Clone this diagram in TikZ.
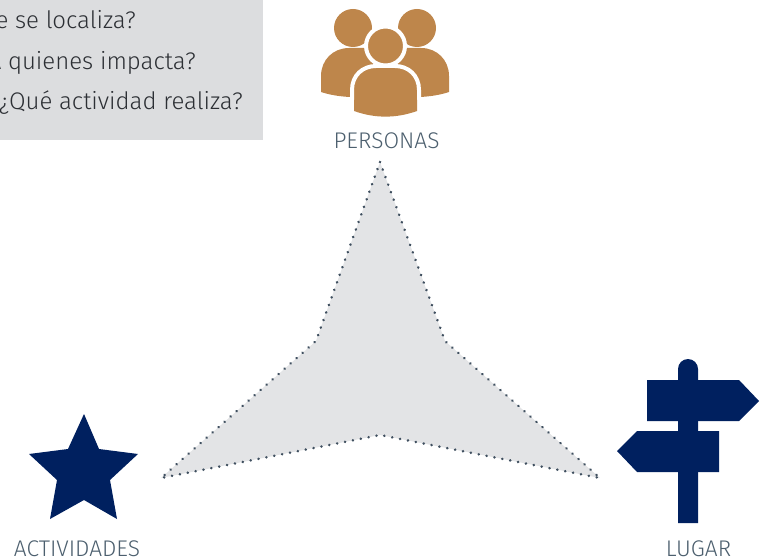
\documentclass[tikz,border=0pt]{standalone}
\usepackage{fontspec}
\setmainfont[UprightFont=* Light]{Fira Sans}
\definecolor{boxgray}{HTML}{DCDDDF}
\definecolor{stargray}{HTML}{E3E4E6}
\definecolor{navy}{HTML}{00205F}
\definecolor{bronze}{HTML}{BE864B}
\definecolor{slate}{HTML}{4C5F6E}
\definecolor{dotgray}{HTML}{3F4F5F}
\definecolor{ink}{HTML}{2C2F34}
\tikzset{
  qtext/.style={text=ink,anchor=base east,inner sep=0pt,font=\fontsize{18}{20}\selectfont},
  captext/.style={text=slate,anchor=base,inner sep=0pt,font=\fontsize{17}{20}\selectfont},
  bronzefill/.style={fill=bronze,draw=none},
  ringshape/.style={fill=bronze,draw=white,line width=3pt},
  navyfill/.style={fill=navy,draw=none}
}
\begin{document}
\begin{tikzpicture}[x=0.75pt,y=-0.75pt]
\useasboundingbox (0,0) rectangle (762,559);
\fill[boxgray] (0,0) rectangle (263,140);
\node[qtext] (q1) at (136,29) {e se localiza?};
\node[qtext] (q2) at (196,70) {A quienes impacta?};
\node[qtext] (q3) at (243,110) {¿Qué actividad realiza?};
% star polygon
\fill[stargray] (380,162) -- (445,341) -- (600,478) -- (380,435) -- (161,478) -- (316,341) -- cycle;
\draw[draw=dotgray,line width=2.1pt,dash pattern=on 0.01pt off 6pt,line cap=round]
  (380,162) -- (445,341) -- (600,478) -- (380,435) -- (161,478) -- (316,341) -- cycle;
% people
\fill[bronzefill] (353,28) circle (19);
\fill[bronzefill] (417,28) circle (19);
\fill[bronzefill] (321,92) -- (321,76) .. controls (321,60) and (333,48) .. (349,48) -- (421,48)
  .. controls (437,48) and (449,60) .. (449,76) -- (449,92) .. controls (440,95) and (430,96.5) .. (420,97)
  -- (350,97) .. controls (340,96.5) and (330,95) .. (321,92) -- cycle;
\filldraw[ringshape] (385.5,46) circle (19.5);
\filldraw[ringshape] (352,113) -- (352,90) .. controls (352,75) and (363,66) .. (376,66) -- (395,66)
  .. controls (408,66) and (419,75) .. (419,90) -- (419,113) -- cycle;
\fill[white] (346,100) rectangle (424,125);
\fill[bronzefill] (354,100) -- (354,111) .. controls (375,118.5) and (396,118.5) .. (417,111) -- (417,100) -- cycle;
\node[captext] (personas) at (386.5,149) {PERSONAS};
% star
\fill[navyfill] (84,414) -- (99,449) -- (138,454) -- (110,480) -- (117,519) -- (84,500)
  -- (50,519) -- (57,480) -- (29,454) -- (68,449) -- cycle;
\node[captext] (actividades) at (77,556) {ACTIVIDADES};
% signpost
\fill[navyfill] (678,523) -- (678,369) arc[start angle=180,end angle=360,radius=10] -- (698,523) -- cycle;
\fill[navyfill] (647,380) -- (739,380) -- (759,401) -- (739,421) -- (647,421) -- cycle;
\fill[navyfill] (719,431) -- (637,431) -- (617,451) -- (637,472) -- (719,472) -- cycle;
\node[captext] (lugar) at (698.5,556) {LUGAR};
\end{tikzpicture}
\end{document}
